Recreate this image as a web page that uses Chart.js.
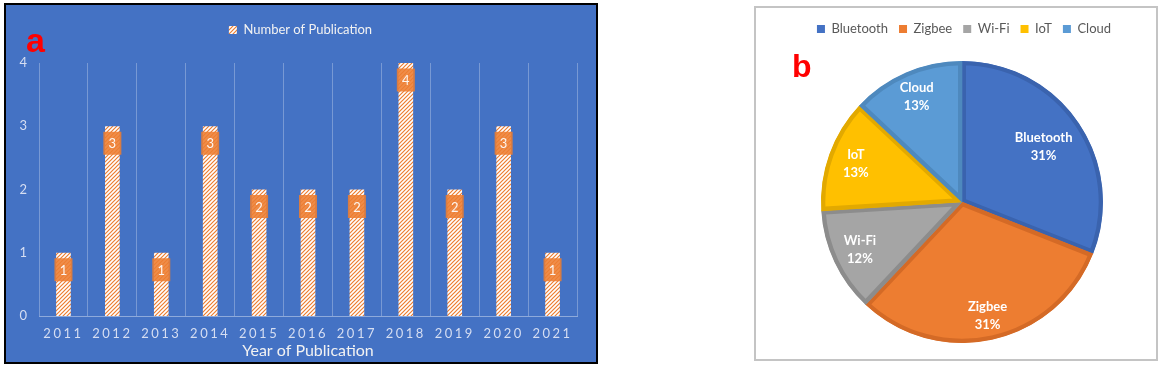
<!DOCTYPE html>
<html>
<head>
<meta charset="utf-8">
<script src="https://cdn.jsdelivr.net/npm/chart.js@4/dist/chart.umd.min.js"></script>
<style>
  body { margin: 0; width: 1164px; height: 368px; background: #fff; position: relative; overflow: hidden; font-family: Lato, "Open Sans", sans-serif; }
  #panelA { position: absolute; left: 4px; top: 3px; width: 590px; height: 357px; border: 2px solid #000; background: #4472C4; }
  #panelB { position: absolute; left: 754px; top: 6px; width: 400px; height: 351px; border: 2px solid #C4C4C4; background: #fff; }
  canvas { display: block; }
  .tag { position: absolute; color: #FF0000; font-family: "Liberation Sans", Arial, sans-serif; font-weight: bold; line-height: 1; }
</style>
</head>
<body>
<div id="panelA"><canvas id="barChart" width="590" height="357"></canvas></div>
<div id="panelB"><canvas id="pieChart" width="400" height="351"></canvas></div>
<div class="tag" style="left:26px;top:23px;font-size:34px;">a</div>
<div class="tag" style="left:792px;top:50px;font-size:32px;">b</div>
<script>
// panel a data
var years = ['2011', '2012', '2013', '2014', '2015', '2016', '2017', '2018', '2019', '2020', '2021'];
var counts = [1, 3, 1, 3, 2, 2, 2, 4, 2, 3, 1];
var yTicks = [0, 1, 2, 3, 4];

// panel b data
var techs = ['Bluetooth', 'Zigbee', 'Wi-Fi', 'IoT', 'Cloud'];
var shares = [31, 31, 12, 13, 13];

var FONT = 'Lato, "Open Sans", sans-serif';

// x axis with spaced out year labels
class SpacedCategoryScale extends Chart.CategoryScale {
  drawLabels(chartArea) {
    this.ctx.save();
    this.ctx.letterSpacing = '2.5px';
    super.drawLabels(chartArea);
    this.ctx.restore();
  }
}
SpacedCategoryScale.id = 'spacedCategory';
Chart.register(SpacedCategoryScale);

// hatch fill for the bars
function makeHatch() {
  var c = document.createElement('canvas');
  c.width = 4; c.height = 4;
  var g = c.getContext('2d');
  g.fillStyle = '#FFFFFF';
  g.fillRect(0, 0, 4, 4);
  g.strokeStyle = '#ED7D31';
  g.lineWidth = 1.2;
  g.beginPath();
  g.moveTo(0, 4); g.lineTo(4, 0);
  g.moveTo(-1, 1); g.lineTo(1, -1);
  g.moveTo(3, 5); g.lineTo(5, 3);
  g.stroke();
  return g.createPattern(c, 'repeat');
}

// extra room under the legend, and an optional sideways nudge
var legendGap = {
  id: 'legendGap',
  afterInit: function(chart, args, opts) {
    var lg = chart.legend;
    var fit = lg.fit;
    lg.fit = function() {
      fit.call(this);
      this.height += opts.gap || 0;
    };
  },
  afterLayout: function(chart, args, opts) {
    if (opts.shift) {
      chart.legend.left += opts.shift;
      chart.legend.right += opts.shift;
    }
  }
};

var barLabels = {
  id: 'barLabels',
  afterDatasetsDraw: function(chart) {
    var ctx = chart.ctx;
    var meta = chart.getDatasetMeta(0);
    ctx.save();
    ctx.font = '13px ' + FONT;
    ctx.textAlign = 'center';
    ctx.textBaseline = 'middle';
    meta.data.forEach(function(bar, i) {
      var cx = bar.x, cy = bar.y + 17;
      ctx.fillStyle = 'rgba(237,125,49,0.88)';
      ctx.fillRect(cx - 9, cy - 11.5, 18, 23);
      ctx.fillStyle = 'rgba(255,255,255,0.92)';
      ctx.fillText(String(counts[i]), cx, cy + 1);
    });
    ctx.restore();
  }
};

var sliceLabels = {
  id: 'sliceLabels',
  afterDatasetsDraw: function(chart, args, opts) {
    var ctx = chart.ctx;
    var meta = chart.getDatasetMeta(0);
    ctx.save();
    ctx.font = 'bold 13px ' + FONT;
    ctx.textAlign = 'center';
    ctx.textBaseline = 'middle';
    ctx.fillStyle = '#FFFFFF';
    meta.data.forEach(function(arc, i) {
      var p = arc.getProps(['x', 'y', 'startAngle', 'endAngle', 'outerRadius']);
      var mid = (p.startAngle + p.endAngle) / 2;
      var r = p.outerRadius * opts.radius[i];
      var x = p.x + Math.cos(mid) * r;
      var y = p.y + Math.sin(mid) * r;
      ctx.fillText(techs[i], x, y - 9);
      ctx.fillText(shares[i] + '%', x, y + 9);
    });
    ctx.restore();
  }
};

new Chart(document.getElementById('barChart'), {
  type: 'bar',
  data: {
    labels: years,
    datasets: [{
      label: 'Number of Publication',
      data: counts,
      backgroundColor: makeHatch(),
      borderWidth: 0,
      categoryPercentage: 1,
      barPercentage: 0.3
    }]
  },
  options: {
    responsive: false,
    animation: false,
    devicePixelRatio: 1,
    layout: { padding: { left: 0, right: 19, top: 8.5, bottom: 0 } },
    plugins: {
      legend: {
        labels: { color: '#F2F2F2', boxWidth: 8, boxHeight: 8, padding: 10, font: { family: FONT, size: 13 } }
      },
      legendGap: { gap: 16.5, shift: 9 },
      tooltip: { enabled: false }
    },
    scales: {
      x: {
        type: 'spacedCategory',
        offset: true,
        grid: { offset: true, color: 'rgba(255,255,255,0.28)', lineWidth: 1, drawTicks: false },
        border: { display: true, color: 'rgba(255,255,255,0.4)', width: 1 },
        ticks: { color: '#D6DEF2', padding: 10, maxRotation: 0, autoSkip: false, font: { family: FONT, size: 13 } },
        title: { display: true, text: 'Year of Publication', color: '#F2F2F2', padding: { top: 0, bottom: 2 }, font: { family: FONT, size: 16 } },
        afterFit: function(scale) { scale.height = 46; }
      },
      y: {
        min: 0,
        max: 4,
        afterBuildTicks: function(scale) {
          scale.ticks = yTicks.map(function(v) { return { value: v }; });
        },
        grid: { display: false, drawTicks: false },
        border: { display: false },
        ticks: { color: '#D6DEF2', padding: 12, font: { family: FONT, size: 13 } },
        afterFit: function(scale) { scale.width = 33; }
      }
    }
  },
  plugins: [legendGap, barLabels]
});

new Chart(document.getElementById('pieChart'), {
  type: 'pie',
  data: {
    labels: techs,
    datasets: [{
      data: shares,
      backgroundColor: ['#4472C4', '#ED7D31', '#A5A5A5', '#FFC000', '#5B9BD5'],
      borderColor: ['#3A63AE', '#D46A26', '#8C8C8C', '#E2A900', '#4E89BE'],
      borderWidth: 4,
      borderAlign: 'inner'
    }]
  },
  options: {
    responsive: false,
    animation: false,
    devicePixelRatio: 1,
    layout: { padding: { left: 12, right: 0, top: 3.5, bottom: 16 } },
    plugins: {
      legend: {
        labels: {
          color: '#595959',
          boxWidth: 8,
          boxHeight: 8,
          padding: 11,
          font: { family: FONT, size: 13 },
          generateLabels: function(chart) {
            var items = Chart.DoughnutController.overrides.plugins.legend.labels.generateLabels(chart);
            items.forEach(function(it) { it.lineWidth = 0; });
            return items;
          }
        }
      },
      legendGap: { gap: 15.5, shift: 2 },
      sliceLabels: { radius: [0.7, 0.83, 0.8, 0.8, 0.81] },
      tooltip: { enabled: false }
    }
  },
  plugins: [legendGap, sliceLabels]
});
</script>
</body>
</html>
